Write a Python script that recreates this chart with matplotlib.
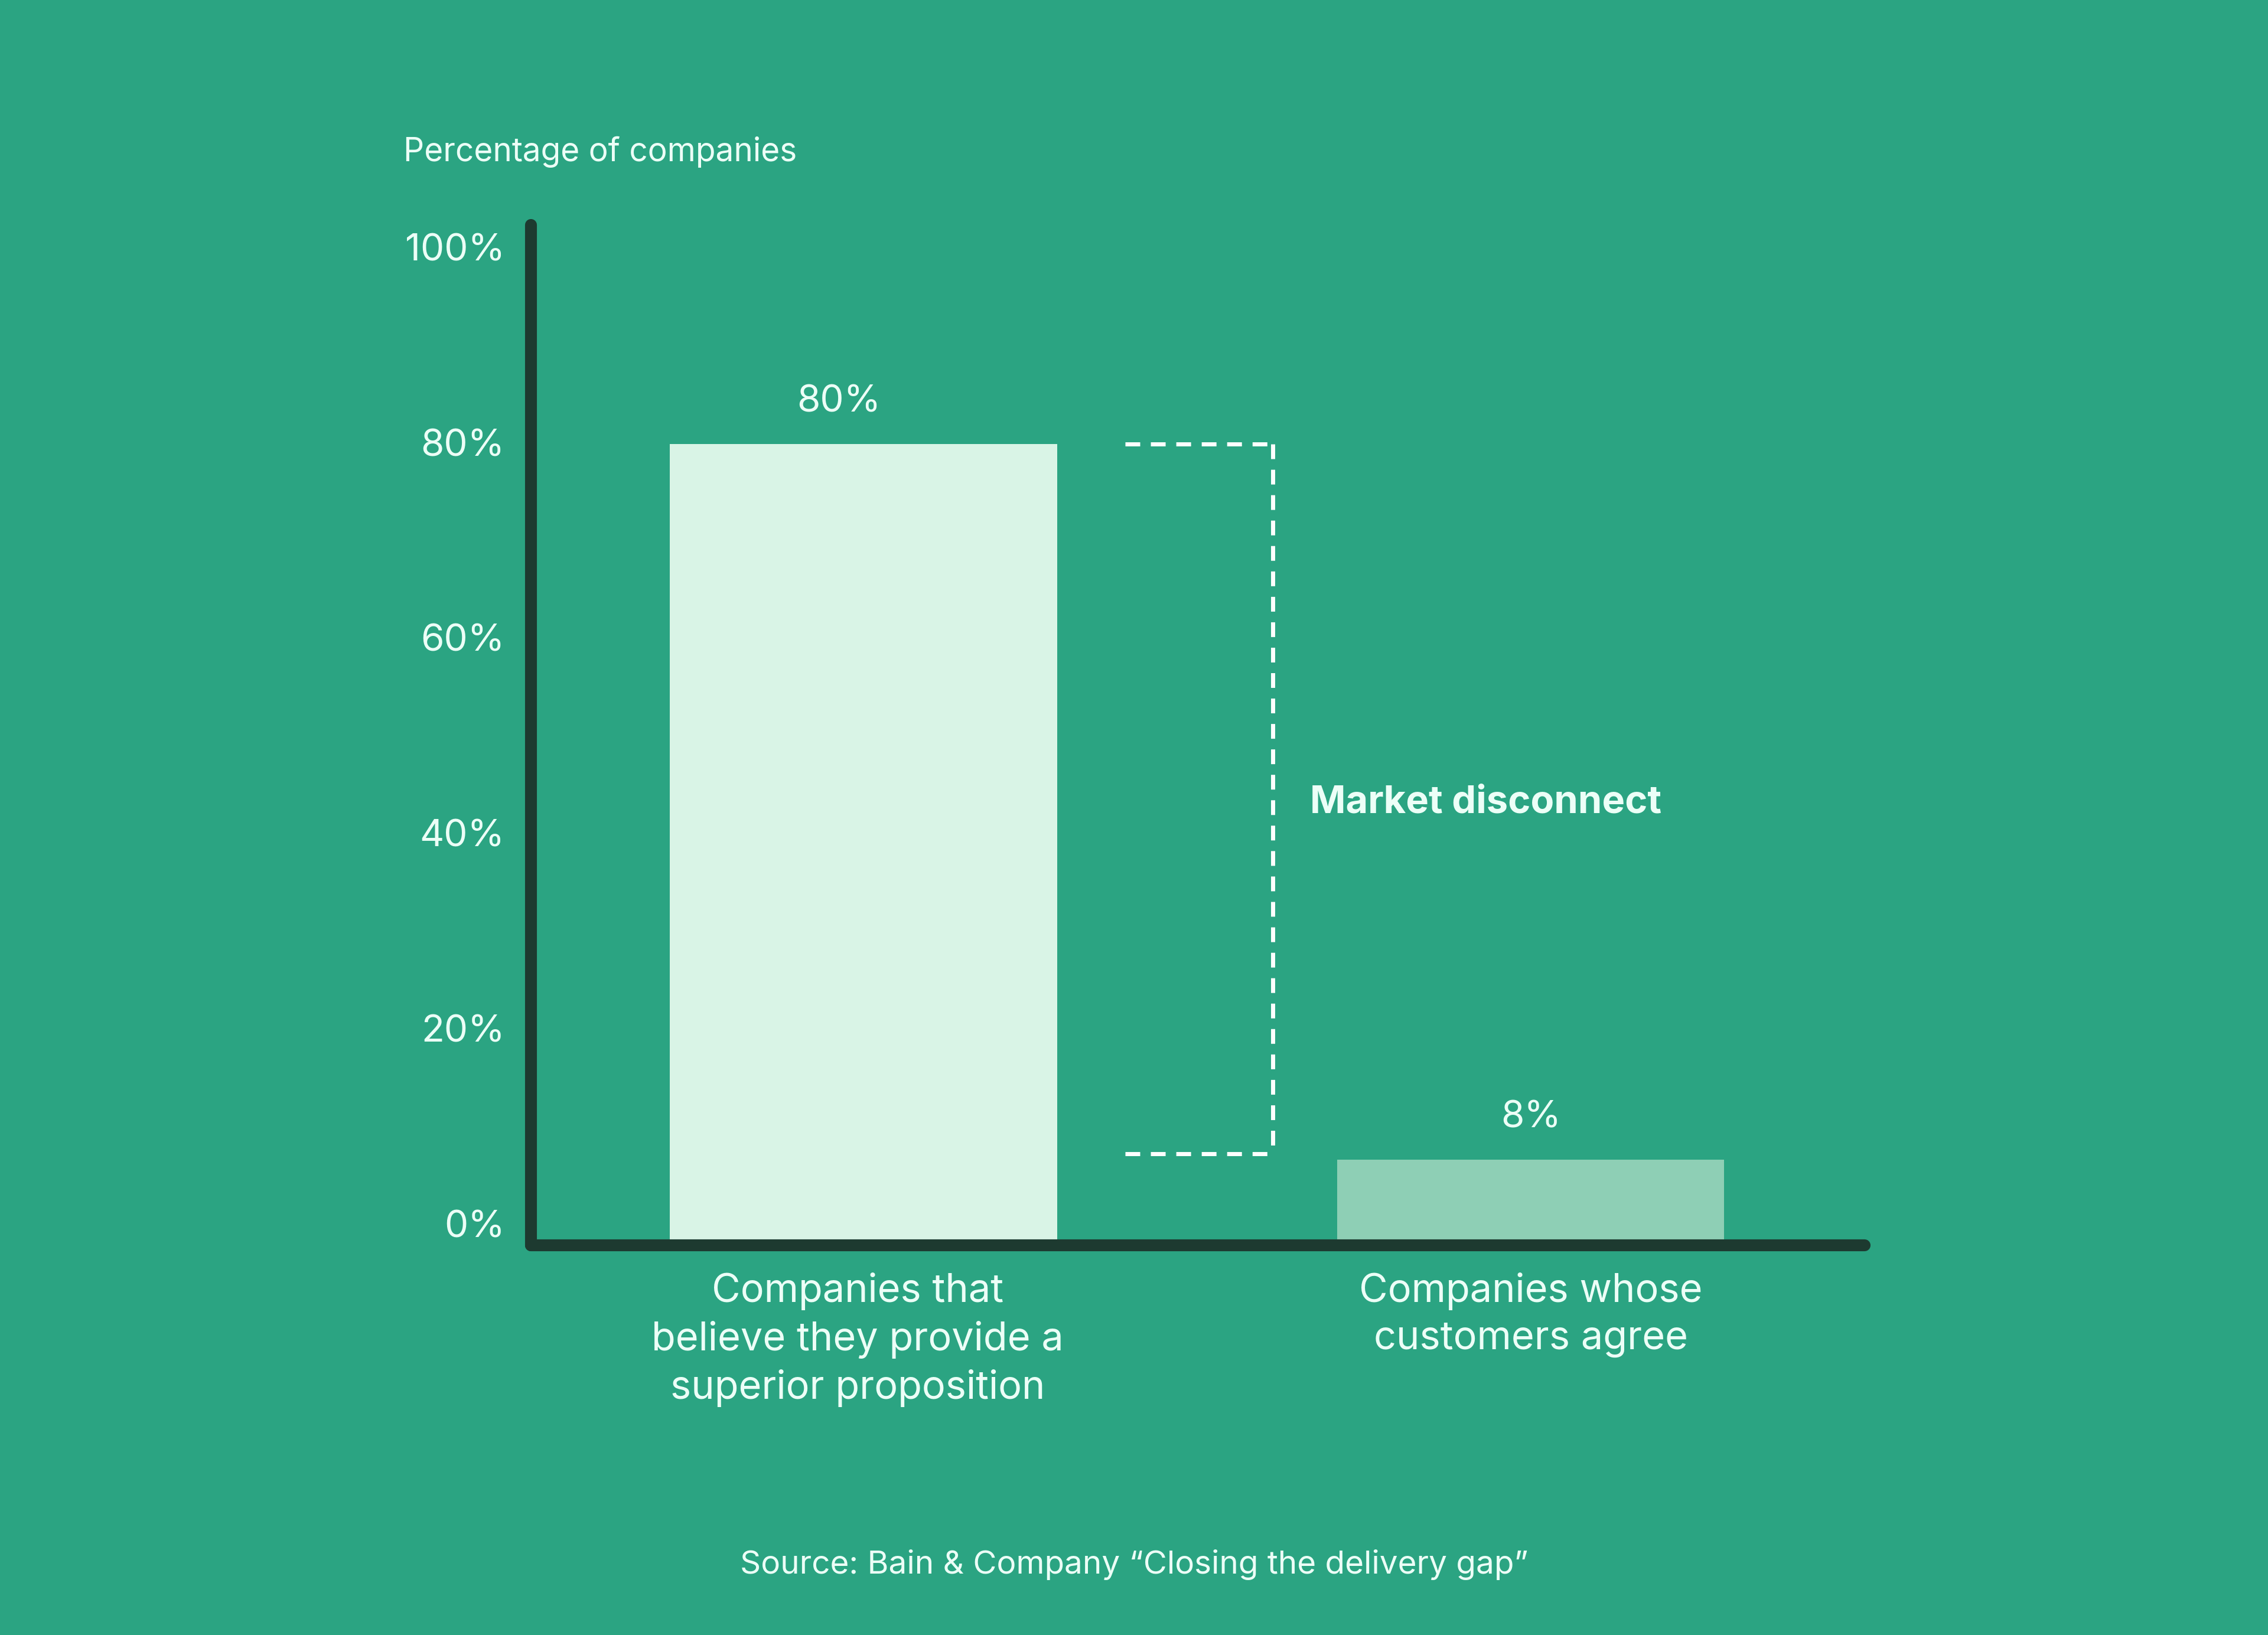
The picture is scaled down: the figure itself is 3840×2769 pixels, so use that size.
import matplotlib
matplotlib.use("Agg")
import matplotlib.pyplot as plt
from matplotlib.transforms import ScaledTranslation

# ---- data ----
categories = ["Companies that\nbelieve they provide a\nsuperior proposition",
              "Companies whose\ncustomers agree"]
values = [80, 8]
value_labels = ["80%", "8%"]
yticks = [0, 20, 40, 60, 80, 100]
ytick_labels = ["0%", "20%", "40%", "60%", "80%", "100%"]
y_title = "Percentage of companies"
gap_label = "Market disconnect"
source = "Source: Bain & Company \u201cClosing the delivery gap\u201d"

# ---- style ----
BG = "#2BA482"
BAR_COLORS = ["#D9F4E6", "#8ECFB5"]
AXIS = "#1D3A30"
TXT = "#ECFFF7"
plt.rcParams["font.family"] = ["Inter", "DejaVu Sans"]

W, H = 3840, 2769
fig = plt.figure(figsize=(W / 100, H / 100), dpi=100, facecolor=BG)
ax = fig.add_axes([897 / W, 1 - 2099 / H, 2271 / W, 1684 / H])
ax.set_facecolor(BG)
ax.set_xlim(-0.5, 1.51)
ax.set_ylim(0, 100)
for s in ax.spines.values():
    s.set_visible(False)

x = list(range(len(values)))
ax.bar(x, values, width=0.58, color=BAR_COLORS, zorder=2)

# axis lines
ax.plot([-0.498, -0.498], [-0.6, 102.0], color=AXIS, lw=14.5,
        solid_capstyle="round", clip_on=False, zorder=3)
ax.plot([-0.498, 1.50], [-0.6, -0.6], color=AXIS, lw=14.5,
        solid_capstyle="round", clip_on=False, zorder=3)

# ticks
ax.set_yticks(yticks)
ax.set_yticklabels(ytick_labels, fontsize=46, color=TXT)
ax.tick_params(axis="y", length=0, pad=30.5)
ax.set_xticks([])
# the reference labels sit on a slightly tighter grid than the bars
for v, lab in zip(yticks, ax.get_yticklabels()):
    dy_px = 27 - 0.306 * v
    lab.set_transform(lab.get_transform() +
                      ScaledTranslation(0, dy_px / 100, fig.dpi_scale_trans))

# value labels
xoffs = [-30, 0]
for xi, v, lab, xo in zip(x, values, value_labels, xoffs):
    ax.annotate(lab, (xi, v), xytext=(xo, 51), textcoords="offset points",
                ha="center", va="center", fontsize=46, color=TXT)

# category labels
cat_xoffs = [-7, 0]
for xi, lab, xo in zip(x, categories, cat_xoffs):
    ax.annotate(lab, (xi, 0), xytext=(xo, -40), textcoords="offset points",
                ha="center", va="top", fontsize=48, color=TXT,
                linespacing=1.36, annotation_clip=False)

# bracket
bx0, bx1 = 0.392, 0.613
dash = (0, (3.6, 2.6))
ax.plot([bx0, bx1], [values[0], values[0]], color="white", lw=5, ls=dash,
        dash_capstyle="butt", clip_on=False, zorder=3)
ax.plot([bx0, bx1], [values[1] + 0.6, values[1] + 0.6], color="white", lw=5,
        ls=dash, dash_capstyle="butt", clip_on=False, zorder=3)
ax.plot([bx1, bx1], [values[0], values[1] + 0.6], color="white", lw=5,
        ls=dash, dash_capstyle="butt", clip_on=False, zorder=3)
ax.text(bx1 + 0.056, (values[0] + values[1]) / 2 - 0.1, gap_label,
        ha="left", va="center", fontsize=46.8, fontweight="bold", color=TXT)

fig.text(683 / W, 1 - 257 / H, y_title, ha="left", va="center",
         fontsize=39.6, color=TXT)
fig.text(0.5, 1 - 2650 / H, source, ha="center", va="center",
         fontsize=39.5, color=TXT)

fig.savefig("out.png", dpi=100, facecolor=BG)
